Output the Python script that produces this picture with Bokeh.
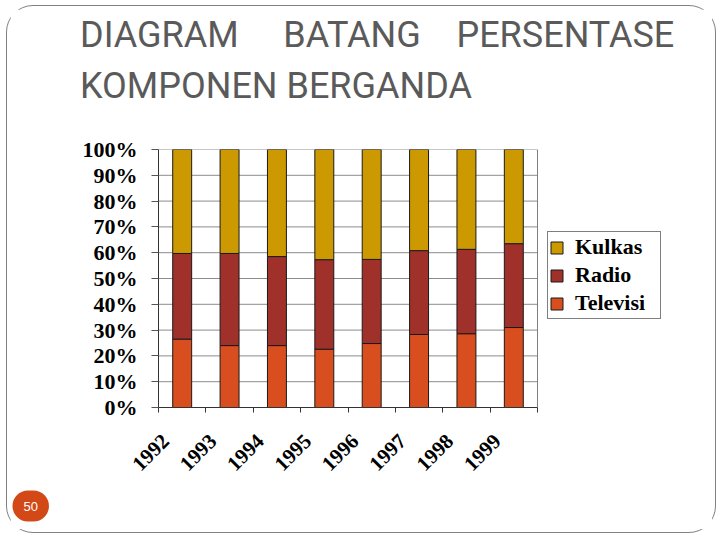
import math
from bokeh.plotting import figure
from bokeh.models import (FixedTicker, Legend, LegendItem, Title, Span,
                          Range1d, ColumnDataSource)
from bokeh.embed import file_html
from bokeh.resources import INLINE

# ---- data ----
years = ["1992", "1993", "1994", "1995", "1996", "1997", "1998", "1999"]
televisi = [26.5, 24.0, 24.0, 22.6, 24.8, 28.3, 28.6, 31.0]
radio = [33.2, 35.7, 34.5, 34.7, 32.6, 32.5, 32.7, 32.5]
kulkas = [40.3, 40.3, 41.5, 42.7, 42.6, 39.2, 38.7, 36.5]
series = ["Televisi", "Radio", "Kulkas"]
colors = ["#D84E1E", "#A0302A", "#CC9900"]
y_ticks = [0, 10, 20, 30, 40, 50, 60, 70, 80, 90, 100]
y_tick_labels = ["0%", "10%", "20%", "30%", "40%", "50%", "60%", "70%", "80%", "90%", "100%"]
title_words = ["DIAGRAM", "BATANG", "PERSENTASE"]
title_line2 = "KOMPONEN BERGANDA"
page_number = "50"

n = len(years)
xs = [i + 0.5 for i in range(n)]
source = ColumnDataSource(dict(x=xs, Televisi=televisi, Radio=radio, Kulkas=kulkas))

# canvas placed at (10, 9) on the page; frame spans plot area + legend area
W, H = 702, 520
left, top, bottom = 148, 140, 399
frame_w, plot_w = 542, 379
p = figure(width=W, height=H, output_backend="svg", toolbar_location=None,
           x_range=Range1d(0, n * frame_w / plot_w), y_range=Range1d(0, 100),
           min_border_left=left, min_border_right=W - left - frame_w,
           min_border_top=top, min_border_bottom=H - bottom)
p.margin = (9, 0, 0, 10)
p.background_fill_color = "white"
p.border_fill_color = "white"
p.outline_line_color = None
p.styles = {"outline": "1.3px solid #808080", "outline-offset": "3px",
            "border-radius": "23px"}

# horizontal gridlines limited to the plot area
p.segment(x0=0, x1=n, y0=y_ticks, y1=y_ticks, line_color="#8c8c8c", line_width=1)

rs = p.vbar_stack(series, x="x", width=0.4, color=colors, source=source,
                  line_color="#1a1a1a", line_width=1)

# right border of plot area
p.add_layout(Span(location=n, dimension="height", line_color="#7f7f7f", line_width=1))

# y axis
yt = FixedTicker(ticks=y_ticks)
p.yaxis.ticker = yt
p.yaxis.major_label_overrides = {t: l for t, l in zip(y_ticks, y_tick_labels)}
p.yaxis.major_tick_out = 7
p.yaxis.major_tick_in = 0
p.yaxis.minor_tick_out = 0
p.yaxis.minor_tick_in = 0
p.yaxis.axis_line_color = "#333333"
p.yaxis.major_tick_line_color = "#555555"
p.yaxis.major_label_text_font = "Liberation Serif"
p.yaxis.major_label_text_font_style = "bold"
p.yaxis.major_label_text_font_size = "22px"
p.yaxis.major_label_text_color = "black"
p.yaxis.major_label_standoff = 14

# x axis: labels nudged left of bar centres, small ticks at category boundaries
label_shift = 0.35
label_pos = [x - label_shift for x in xs]
xt = FixedTicker(ticks=label_pos, minor_ticks=list(range(n + 1)))
p.xaxis.ticker = xt
p.xaxis.bounds = (0, n)
p.xaxis.major_label_overrides = {x: y for x, y in zip(label_pos, years)}
p.xaxis.major_tick_out = 0
p.xaxis.major_tick_in = 0
p.xaxis.minor_tick_out = 5
p.xaxis.minor_tick_in = 0
p.xaxis.minor_tick_line_color = "#333333"
p.xaxis.axis_line_color = "#333333"
p.xaxis.major_label_orientation = math.pi / 4
p.xaxis.major_label_text_font = "Liberation Serif"
p.xaxis.major_label_text_font_style = "bold"
p.xaxis.major_label_text_font_size = "21px"
p.xaxis.major_label_text_color = "black"
p.xaxis.major_label_standoff = 25

p.xgrid.visible = False
p.ygrid.visible = False

# legend
items = [LegendItem(label=name, renderers=[r]) for name, r in zip(series, rs)][::-1]
legend = Legend(items=items, location=(389, 88))
legend.label_text_font = "Liberation Serif"
legend.label_text_font_style = "bold"
legend.label_text_font_size = "22px"
legend.label_text_color = "black"
legend.label_height = 28
legend.label_width = 84
legend.glyph_width = 15
legend.glyph_height = 15
legend.label_standoff = 11
legend.spacing = 0
legend.padding = 1
legend.margin = 0
legend.border_line_color = "black"
legend.border_line_width = 1
legend.background_fill_color = "white"
p.add_layout(legend)

# slide title (two lines, with a spacer above the frame) and page number
title_color = "#5a5a5a"
tfont = "Roboto"
line1 = ("\u00a0" * 5).join(title_words[:2]) + ("\u00a0" * 4) + title_words[2]
spacer = Title(text="\u00a0", align="left", offset=0, standoff=-8,
               text_font=tfont, text_font_size="36px", text_color="white")
t2 = Title(text=title_line2, align="left", offset=-78.5, standoff=14,
           text_font=tfont, text_font_size="36px", text_font_style="normal",
           text_color=title_color)
t1 = Title(text=line1, align="left", offset=-78.5, standoff=0,
           text_font=tfont, text_font_size="36px", text_font_style="normal",
           text_color=title_color)
p.add_layout(spacer, "above")
p.add_layout(t2, "above")
p.add_layout(t1, "above")

pn = Title(text=page_number, align="left", offset=-146, standoff=16,
           text_font="Liberation Sans", text_font_size="13px", text_font_style="normal",
           text_color="white", background_fill_color="#D34817",
           border_radius=18, padding=11)
p.add_layout(pn, "below")

open("out.html", "w").write(file_html(p, INLINE))
